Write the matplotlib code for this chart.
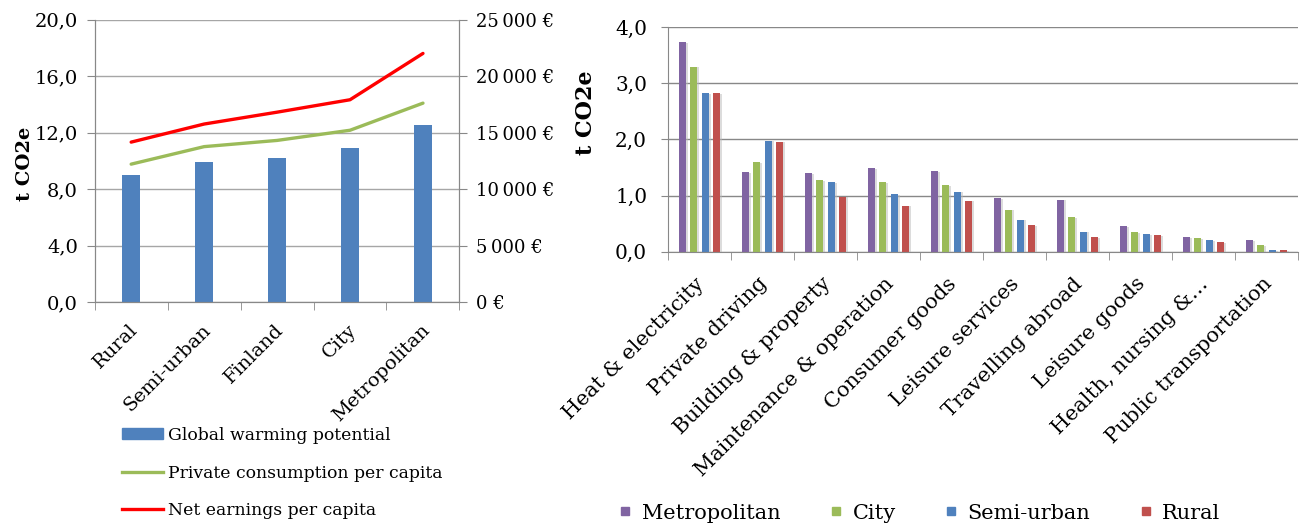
import numpy as np
import matplotlib
matplotlib.use('Agg')
import matplotlib.pyplot as plt
import matplotlib.patheffects as pe
from matplotlib.lines import Line2D
from matplotlib.patches import Patch
from matplotlib.transforms import ScaledTranslation

# left chart: regional comparison
areas = ['Rural', 'Semi-urban', 'Finland', 'City', 'Metropolitan']
gwp = [9.0, 9.9, 10.2, 10.9, 12.5]
consumption = [12200, 13750, 14300, 15200, 17600]
earnings = [14150, 15750, 16800, 17900, 22000]

# right chart: footprint by category
categories = ['Heat & electricity', 'Private driving', 'Building & property',
              'Maintenance & operation', 'Consumer goods', 'Leisure services',
              'Travelling abroad', 'Leisure goods', 'Health, nursing &…',
              'Public transportation']
series_names = ['Metropolitan', 'City', 'Semi-urban', 'Rural']
metropolitan = [3.73, 1.42, 1.40, 1.49, 1.44, 0.95, 0.93, 0.45, 0.26, 0.21]
city = [3.30, 1.59, 1.28, 1.24, 1.19, 0.75, 0.61, 0.35, 0.24, 0.12]
semi_urban = [2.83, 1.98, 1.24, 1.03, 1.07, 0.57, 0.36, 0.31, 0.21, 0.03]
rural = [2.83, 1.96, 0.98, 0.82, 0.91, 0.47, 0.26, 0.29, 0.17, 0.03]

plt.rcParams['font.family'] = ['DejaVu Serif']
GREY = '#888888'
GRID = '#a6a6a6'

fig = plt.figure(figsize=(13.06, 5.29), dpi=100)

# ---------- left ----------
ax = fig.add_axes([0.0725, 0.4291, 0.2793, 0.534])
x = np.arange(len(areas))
ax.bar(x, gwp, width=0.24, color='#4F81BD', zorder=2)
ax.set_xlim(-0.5, len(areas) - 0.5)
ax.set_ylim(0, 20)
ax.set_yticks(np.arange(0, 21, 4))
ax.set_yticklabels([f'{v:.1f}'.replace('.', ',') for v in np.arange(0, 21, 4)], fontsize=14)
ax.yaxis.grid(True, color=GRID, lw=1)
ax.set_axisbelow(True)
ax.set_xticks(x)
ax.set_xticklabels(areas, rotation=45, rotation_mode='anchor', ha='right', va='center', fontsize=14)
ax.set_xticks(np.arange(-0.5, len(areas)), minor=True)
ax.tick_params(axis='x', which='major', length=0, pad=18)
ax.tick_params(axis='x', which='minor', length=6, color=GREY, direction='out')
ax.tick_params(axis='y', length=6, color=GREY, direction='out', pad=6)
for lab in ax.get_xticklabels():
    lab.set_transform(lab.get_transform() + ScaledTranslation(0.04, 0, fig.dpi_scale_trans))
for s in ['left', 'bottom', 'right']:
    ax.spines[s].set_color(GREY)
ax.spines['top'].set_visible(False)
ax.set_ylabel('t CO2e', fontsize=14, fontweight='bold')
ax.yaxis.set_label_coords(-0.165, 0.49)

ax2 = ax.twinx()
ax2.plot(x, consumption, color='#9BBB59', lw=2.4, solid_capstyle='round')
ax2.plot(x, earnings, color='#FF0000', lw=2.4, solid_capstyle='round')
ax2.set_ylim(0, 25000)
ax2.set_yticks(np.arange(0, 25001, 5000))
ax2.set_yticklabels(['0 €'] + [f'{v // 1000}\u2009000 €' for v in range(5000, 25001, 5000)], fontsize=13)
ax2.tick_params(axis='y', length=6, color=GREY, direction='out', pad=6)
for s in ['left', 'bottom', 'right']:
    ax2.spines[s].set_color(GREY)
ax2.spines['top'].set_visible(False)

handles = [Patch(color='#4F81BD'),
           Line2D([], [], color='#9BBB59', lw=2.4),
           Line2D([], [], color='#FF0000', lw=2.4)]
fig.legend(handles, ['Global warming potential', 'Private consumption per capita',
                     'Net earnings per capita'],
           loc='upper left', bbox_to_anchor=(0.0934, 0.193), frameon=False,
           fontsize=12.4, handlelength=2.4, handleheight=0.6, handletextpad=0.3,
           labelspacing=1.2, borderpad=0, borderaxespad=0)

# ---------- right ----------
bx = fig.add_axes([0.5115, 0.5242, 0.4824, 0.4242])
xc = np.arange(len(categories))
colors = ['#8064A2', '#9BBB59', '#4F81BD', '#C0504D']
values = [metropolitan, city, semi_urban, rural]
step = 0.18
shadow = [pe.SimplePatchShadow(offset=(1.5, -0.5), shadow_rgbFace='#bbbbbb', alpha=0.5), pe.Normal()]
for i, (vals, c) in enumerate(zip(values, colors)):
    bars = bx.bar(xc + (i - 1.5) * step, vals, width=0.11, color=c, zorder=2)
    for b in bars:
        b.set_path_effects(shadow)
bx.set_xlim(-0.5, len(categories) - 0.5)
bx.set_ylim(0, 4)
bx.set_yticks(np.arange(0, 5))
bx.set_yticklabels([f'{v:.1f}'.replace('.', ',') for v in range(5)], fontsize=14.5)
bx.yaxis.grid(True, color=GREY, lw=1)
bx.set_axisbelow(True)
bx.set_xticks(xc)
bx.set_xticklabels(categories, rotation=45, rotation_mode='anchor', ha='right', va='center', fontsize=15)
bx.set_xticks(np.arange(-0.5, len(categories)), minor=True)
bx.tick_params(axis='x', which='major', length=0, pad=21)
bx.tick_params(axis='x', which='minor', length=6, color=GREY, direction='out')
bx.tick_params(axis='y', length=5, color=GREY, direction='out', pad=10)
for lab in bx.get_xticklabels():
    lab.set_transform(lab.get_transform() + ScaledTranslation(0.02, 0, fig.dpi_scale_trans))
for s in ['left', 'bottom']:
    bx.spines[s].set_color(GREY)
for s in ['top', 'right']:
    bx.spines[s].set_visible(False)
bx.set_ylabel('t CO2e', fontsize=16, fontweight='bold')
bx.yaxis.set_label_coords(-0.112, 0.62)

mh = [Line2D([], [], marker='s', ls='none', color=c, markersize=6) for c in colors]
fig.legend(mh, series_names, loc='center left', bbox_to_anchor=(0.474, 0.03),
           ncol=4, frameon=False, fontsize=15, handlelength=0.6, handletextpad=0.5,
           columnspacing=2.35, borderpad=0, borderaxespad=0)

fig.savefig('out.png', dpi=100)
